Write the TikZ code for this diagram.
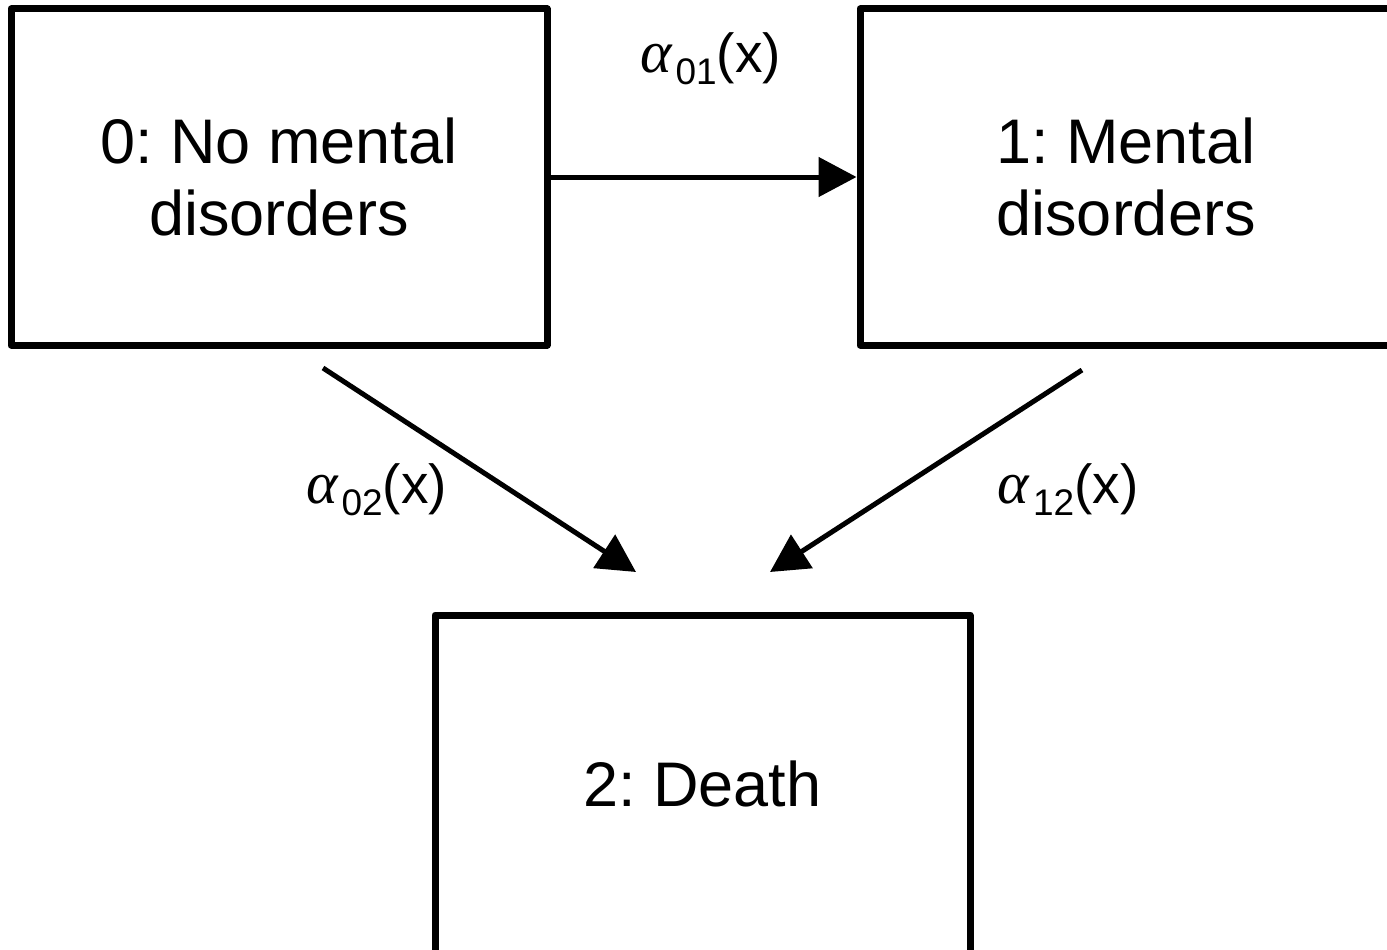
\documentclass[tikz,border=0pt]{standalone}
\usepackage{fontspec}
\setmainfont{Liberation Sans}
\newfontfamily\alphafont{Liberation Serif}
\usetikzlibrary{arrows.meta}
\frenchspacing
\newcommand{\ratelabel}[1]{{\fontsize{55}{60}\selectfont{\fontsize{60}{60}\selectfont\alphafont\itshape α}\kern4pt\raisebox{-12pt}{\fontsize{37}{40}\selectfont #1}(x)}}
\begin{document}
\begin{tikzpicture}[x=1pt,y=-1pt,
  statebox/.style={draw, line width=7pt, line join=round, align=center,
    inner sep=0pt, font=\fontsize{63}{72.5}\selectfont},
  conn/.style={line width=5pt, -{Triangle[length=38pt,width=39pt]}},
  rate/.style={anchor=base, inner sep=0pt}]
\useasboundingbox (0,0) rectangle (1387,950);
\clip (0,0) rectangle (1387,950);
\node[statebox, minimum width=536pt, minimum height=336pt] (b0) at (279,177) {0: No mental\\disorders};
\node[statebox, minimum width=532pt, minimum height=336pt] (b1) at (1126,177) {1: Mental\\disorders};
\node[statebox, minimum width=535pt, minimum height=338pt] (b2) at (702.5,784) {2: Death};
\coordinate (s02) at (323,368);
\coordinate (e02) at (636,572);
\coordinate (s12) at (1082,370);
\coordinate (e12) at (770,572);
\draw[conn] (b0.east) -- (b1.west);
\draw[conn] (s02) -- (e02);
\draw[conn] (s12) -- (e12);
\node[rate] (l01) at (710.5,73) {\ratelabel{01}};
\node[rate] (l02) at (376.5,503) {\ratelabel{02}};
\node[rate] (l12) at (1068,503) {\ratelabel{12}};
\end{tikzpicture}
\end{document}
